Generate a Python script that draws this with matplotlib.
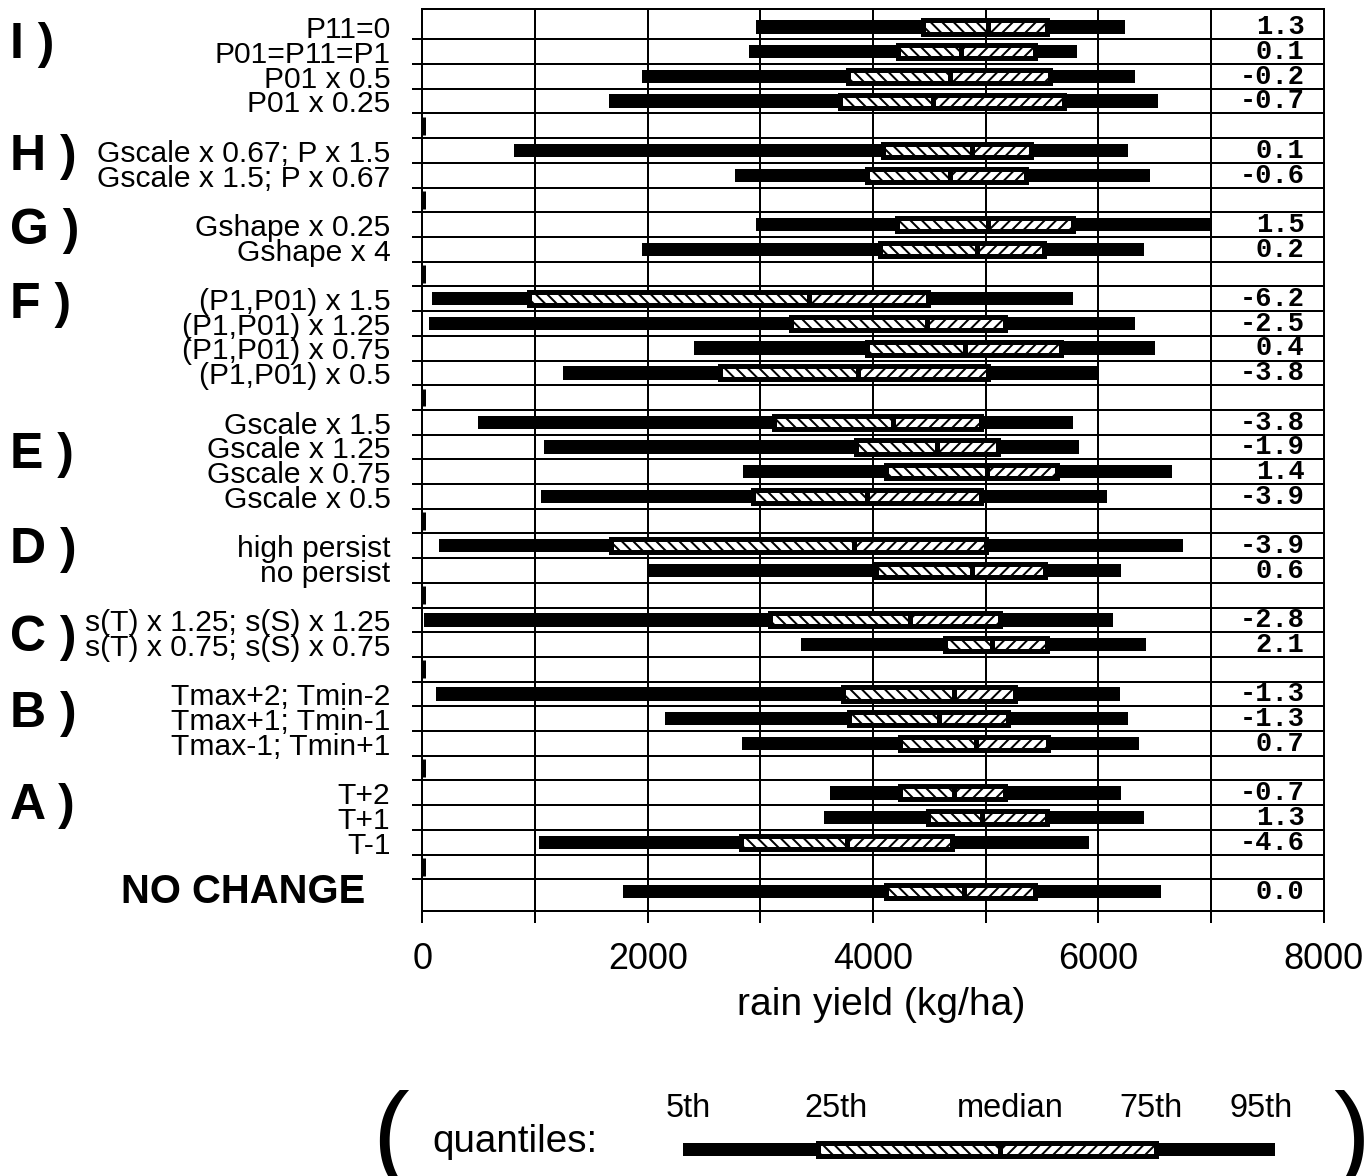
import numpy as np
import matplotlib
matplotlib.use("Agg")
import matplotlib.pyplot as plt
from matplotlib.patches import Rectangle
from matplotlib import font_manager as fm
from matplotlib.transforms import blended_transform_factory

# ---------------- data ----------------
row_labels = [
    "P11=0", "P01=P11=P1", "P01 x 0.5", "P01 x 0.25", "",
    "Gscale x 0.67; P x 1.5", "Gscale x 1.5; P x 0.67", "",
    "Gshape x 0.25", "Gshape x 4", "",
    "(P1,P01) x 1.5", "(P1,P01) x 1.25", "(P1,P01) x 0.75", "(P1,P01) x 0.5", "",
    "Gscale x 1.5", "Gscale x 1.25", "Gscale x 0.75", "Gscale x 0.5", "",
    "high persist", "no persist", "",
    "s(T) x 1.25; s(S) x 1.25", "s(T) x 0.75; s(S) x 0.75", "",
    "Tmax+2; Tmin-2", "Tmax+1; Tmin-1", "Tmax-1; Tmin+1", "",
    "T+2", "T+1", "T-1", "",
    "NO CHANGE",
]
nan = np.nan
q05 = [2960, 2900, 1950, 1655, nan, 815, 2775, nan, 2960, 1950, nan,
       85, 55, 2415, 1250, nan, 490, 1080, 2850, 1050, nan, 150, 2005, nan,
       10, 3365, nan, 120, 2155, 2835, nan, 3615, 3565, 1035, nan, 1780]
q25 = [4440, 4225, 3775, 3710, nan, 4085, 3945, nan, 4210, 4065, nan,
       950, 3275, 3945, 2640, nan, 3125, 3850, 4115, 2935, nan, 1675, 4025, nan,
       3090, 4635, nan, 3730, 3790, 4240, nan, 4240, 4490, 2825, nan, 4115]
q50 = [5020, 4780, 4680, 4535, nan, 4880, 4680, nan, 5020, 4920, nan,
       3435, 4475, 4815, 3865, nan, 4175, 4565, 5015, 3945, nan, 3835, 4875, nan,
       4330, 5060, nan, 4720, 4585, 4910, nan, 4720, 4970, 3770, nan, 4810]
q75 = [5545, 5440, 5575, 5700, nan, 5405, 5360, nan, 5775, 5515, nan,
       4490, 5170, 5670, 5020, nan, 4955, 5110, 5635, 4955, nan, 5005, 5525, nan,
       5130, 5545, nan, 5260, 5200, 5555, nan, 5170, 5545, 4700, nan, 5435]
q95 = [6235, 5815, 6325, 6530, nan, 6265, 6455, nan, 7000, 6405, nan,
       5775, 6330, 6500, 5995, nan, 5775, 5830, 6655, 6080, nan, 6750, 6205, nan,
       6130, 6425, nan, 6190, 6265, 6360, nan, 6205, 6405, 5920, nan, 6560]
change = [1.3, 0.1, -0.2, -0.7, nan, 0.1, -0.6, nan, 1.5, 0.2, nan,
          -6.2, -2.5, 0.4, -3.8, nan, -3.8, -1.9, 1.4, -3.9, nan, -3.9, 0.6, nan,
          -2.8, 2.1, nan, -1.3, -1.3, 0.7, nan, -0.7, 1.3, -4.6, nan, 0.0]
group_names = ["I", "H", "G", "F", "E", "D", "C", "B", "A"]
group_rows = [0.51, 5.05, 8.05, 11.04, 17.1, 20.96, 24.5, 27.6, 31.3]
x_ticks = [0, 1000, 2000, 3000, 4000, 5000, 6000, 7000, 8000]
x_ticklabels = ["0", "", "2000", "", "4000", "", "6000", "", "8000"]
legend_names = ["5th", "25th", "median", "75th", "95th"]

# ---------------- setup ----------------
DPI = 138
W, H = 1367, 1176


def pt(px):
    return px * 72.0 / DPI


SANS = "Liberation Sans"
MONO = "Liberation Mono"

plt.rcParams["font.family"] = [SANS, "DejaVu Sans"]
plt.rcParams["hatch.linewidth"] = pt(2.0)
plt.rcParams["hatch.color"] = "black"

fig = plt.figure(figsize=((W + 0.3) / DPI, (H + 0.3) / DPI), dpi=DPI)
fig.patch.set_facecolor("white")

ax_l, ax_r, ax_t, ax_b = 422.3, 1323.3, 9.0, 911.0
ax = fig.add_axes([ax_l / W, 1 - ax_b / H, (ax_r - ax_l) / W, (ax_b - ax_t) / H])

n = len(row_labels)
rows = np.arange(n)
ax.set_xlim(0, 8000)
ax.set_ylim(n - 1 + 0.78, -0.741)

LW = pt(2.0)
for s in ax.spines.values():
    s.set_linewidth(LW)
    s.set_color("black")

# grid / row lines
for xv in x_ticks:
    ax.axvline(xv, color="black", lw=LW, zorder=1)
for r in range(n - 1):
    ax.axhline(r + 0.5, color="black", lw=LW, zorder=1)

# ticks
ax.set_xticks(x_ticks, labels=x_ticklabels)
ax.tick_params(axis="x", which="major", direction="out", length=pt(12), width=LW,
               pad=pt(19), labelsize=pt(36))
for t in ax.get_xticklabels():
    t.set_fontfamily(SANS)

ax.set_yticks(np.arange(n - 1) + 0.5)
ax.set_yticklabels([])
ax.tick_params(axis="y", which="major", direction="out", length=pt(10), width=LW)
ax.set_yticks(rows, labels=row_labels[:-1] + [""], minor=True)
ax.tick_params(axis="y", which="minor", length=0, pad=pt(32), labelsize=pt(30))

ax.set_xlabel("rain yield (kg/ha)", fontsize=pt(39), family=SANS)
ax.xaxis.set_label_coords((881 - ax_l) / (ax_r - ax_l), -(1005 - ax_b) / (ax_b - ax_t))
ax.xaxis.label.set_va("center")

WH = 0.54   # whisker bar height (rows)
BH = 0.53   # box height (rows)
BLW = pt(5)


def draw_q(a, y, lo, b25, med, b75, hi, wh, bh, z=3):
    a.barh(y, hi - lo, left=lo, height=wh, color="black", linewidth=0, zorder=z)
    a.add_patch(Rectangle((b25, y - bh / 2), med - b25, bh, facecolor="white",
                          edgecolor="black", lw=BLW, hatch="\\\\\\\\", zorder=z + 1))
    a.add_patch(Rectangle((med, y - bh / 2), b75 - med, bh, facecolor="white",
                          edgecolor="black", lw=BLW, hatch="////", zorder=z + 1))


for r in rows:
    if np.isnan(q05[r]):
        ax.plot([15, 15], [r - 0.36, r + 0.36], color="black", lw=pt(3),
                solid_capstyle="butt", zorder=3)
        continue
    draw_q(ax, r, q05[r], q25[r], q50[r], q75[r], q95[r], WH, BH)
    ax.text(7830, r, f"{change[r]:.1f}", ha="right", va="center",
            family=MONO, weight="bold", fontsize=pt(27), zorder=5)

# group letters
tr = blended_transform_factory(fig.transFigure, ax.transData)
for g, gr in zip(group_names, group_rows):
    ax.text(10 / W, gr + 0.73, f"{g} )", transform=tr, ha="left", va="baseline",
            family=SANS, weight="bold", fontsize=pt(50), clip_on=False)
ax.text(365 / W, 35.46, row_labels[-1], transform=tr, ha="right", va="baseline",
        family=SANS, weight="bold", fontsize=pt(40), clip_on=False)

# ---------------- legend ----------------
lax = fig.add_axes([370 / W, 0, 1 - 370 / W, 106 / H])
lax.set_xlim(370, W)
lax.set_ylim(1176, 1070)
lax.axis("off")
lax.patch.set_alpha(0)

lpos = [683, 817.5, 1000, 1155.5, 1275]
lab_x = [688, 836, 1010, 1151, 1261]
draw_q(lax, 1150, lpos[0], lpos[1], lpos[2], lpos[3], lpos[4], 13, 13)
for name, xx in zip(legend_names, lab_x):
    lax.text(xx, 1108, name, ha="center", va="center", family=SANS,
             fontsize=pt(32.5), clip_on=False)
lax.text(432, 1142, "quantiles:", ha="left", va="center", family=SANS,
         fontsize=pt(38.6), clip_on=False)
lax.text(390, 1169, "(", ha="center", va="baseline", family=SANS,
         fontsize=pt(110), clip_on=False)
lax.text(1351, 1169, ")", ha="center", va="baseline", family=SANS,
         fontsize=pt(110), clip_on=False)

fig.savefig("out.png", dpi=DPI, facecolor="white")
